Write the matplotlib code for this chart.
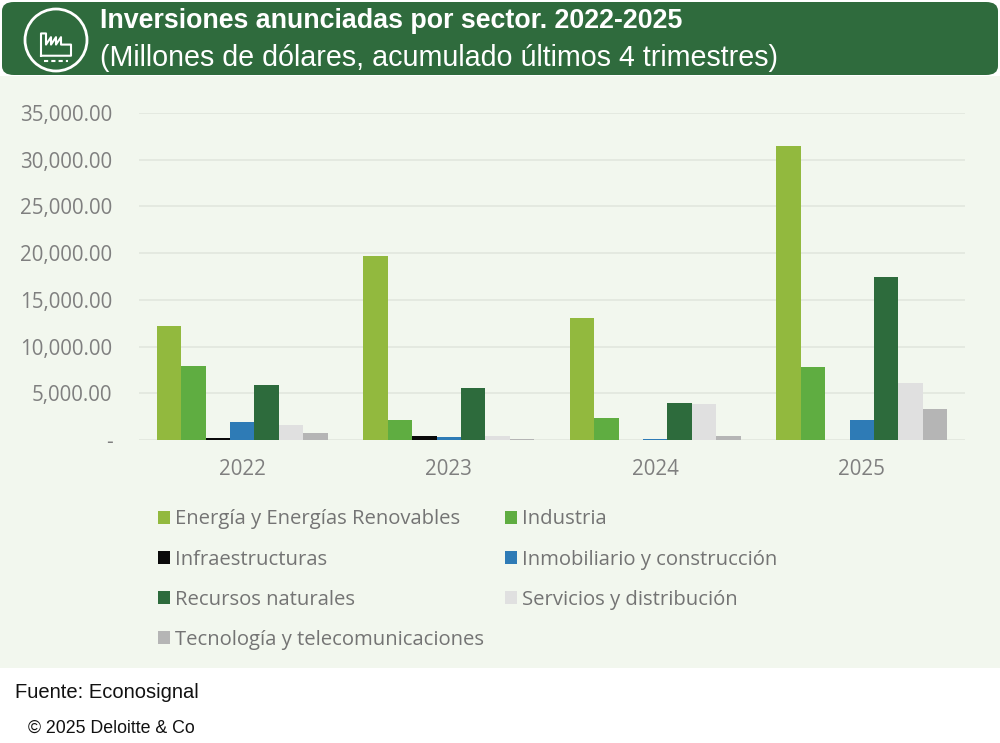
import matplotlib.pyplot as plt
import matplotlib.patches as mpatches
from matplotlib.patches import FancyBboxPatch, Ellipse
import numpy as np

plt.rcParams['font.family'] = ['Open Sans', 'DejaVu Sans']

years = ['2022', '2023', '2024', '2025']
sectors = ['Energía y Energías Renovables', 'Industria', 'Infraestructuras',
           'Inmobiliario y construcción', 'Recursos naturales',
           'Servicios y distribución', 'Tecnología y telecomunicaciones']
energia = [12150, 19700, 13050, 31450]
industria = [7900, 2150, 2350, 7800]
infraestructuras = [250, 460, 0, 0]
inmobiliario = [1900, 290, 100, 2100]
recursos = [5900, 5570, 3930, 17450]
servicios = [1600, 450, 3850, 6050]
tecnologia = [750, 100, 460, 3320]
colors = ['#92b93e', '#5fad41', '#0a0a0a', '#2e7bb6', '#2d6b3c', '#e0e0e0', '#b5b5b5']

series = [energia, industria, infraestructuras, inmobiliario, recursos, servicios, tecnologia]
hfont = ['Liberation Sans', 'DejaVu Sans']

fig = plt.figure(figsize=(10, 7.43), dpi=100)
fig.patch.set_facecolor('white')

# fondo del panel
fig.patches.append(mpatches.Rectangle((0, 1 - 668/743), 1, (668 - 76)/743,
                                      transform=fig.transFigure, facecolor='#f2f7ee',
                                      edgecolor='none', zorder=0))
# cabecera verde
fig.patches.append(FancyBboxPatch((0.002, 1 - 75/743), 0.996, 73/743,
                                  boxstyle='round,pad=0,rounding_size=0.012',
                                  transform=fig.transFigure, facecolor='#2f6b3d',
                                  edgecolor='none', zorder=1))
fig.patches.append(Ellipse((0.056, 1 - 40/743), 0.062, 62/743, transform=fig.transFigure,
                           facecolor='none', edgecolor='white', linewidth=2, zorder=2))
# icono fabrica
fx = np.array([0.041, 0.041, 0.046, 0.046, 0.051, 0.051, 0.056, 0.056, 0.061, 0.061, 0.071, 0.071, 0.041])
fy = np.array([0.925, 0.955, 0.955, 0.940, 0.950, 0.940, 0.950, 0.940, 0.950, 0.940, 0.940, 0.925, 0.925])
fig.lines.append(plt.Line2D(fx, fy, transform=fig.transFigure, color='white', lw=1.5, zorder=3))
fig.lines.append(plt.Line2D([0.044, 0.068], [0.918, 0.918], transform=fig.transFigure,
                            color='white', lw=1.5, ls=(0, (2, 1.5)), zorder=3))

fig.text(0.100, 1 - 21/743, 'Inversiones anunciadas por sector. 2022-2025', color='white',
         fontsize=19.3, fontweight='bold', va='center', ha='left', family=hfont)
fig.text(0.100, 1 - 58/743, '(Millones de dólares, acumulado últimos 4 trimestres)', color='white',
         fontsize=20.6, va='center', ha='left', family=hfont)

ax = fig.add_axes([0.139, 1 - 440/743, 0.826, (440 - 113)/743])
ax.set_zorder(5)
ax.set_facecolor('none')
x = np.arange(len(years))
w = 0.118
for i, (vals, name) in enumerate(zip(series, sectors)):
    ax.bar(x + (i - 3) * w, vals, width=w, color=colors[i], label=name, zorder=3)

ax.set_xlim(-0.5, 3.5)
ax.set_ylim(0, 35000)
ax.set_yticks(range(0, 35001, 5000))
ax.set_yticklabels(['-'] + [f'{v:,.2f}' for v in range(5000, 35001, 5000)])
ax.set_xticks(x)
ax.set_xticklabels(years)
ax.yaxis.grid(True, color='#e2e7de', linewidth=1.2, zorder=0)
for s in ax.spines.values():
    s.set_visible(False)
ax.tick_params(axis='both', length=0, labelsize=14.8, labelcolor='#7f7f7f')
ax.tick_params(axis='y', pad=19)
ax.tick_params(axis='x', pad=14)

handles, labels = ax.get_legend_handles_labels()
order = [0, 2, 4, 6, 1, 3, 5]
leg = fig.legend([handles[k] for k in order], [labels[k] for k in order],
                 ncol=2, loc='upper left', bbox_to_anchor=(0.140, 1 - 491/743),
                 frameon=False, fontsize=14.6, labelcolor='#747474',
                 handlelength=0.6, handleheight=0.6, handletextpad=0.25,
                 labelspacing=1.0, columnspacing=1.0)

fig.text(0.015, 1 - 693/743, 'Fuente: Econosignal', fontsize=14.5, va='center', ha='left',
         family=hfont, color='#111111')
fig.text(0.028, 1 - 728/743, '© 2025 Deloitte & Co', fontsize=12.8, va='center', ha='left',
         family=hfont, color='#111111')

plt.savefig('out.png', dpi=100)
